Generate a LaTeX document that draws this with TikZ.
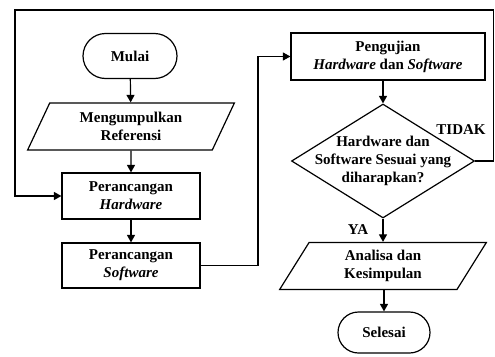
\documentclass[tikz,border=0pt]{standalone}
\usepackage{fontspec}
\setmainfont{Liberation Serif}
\usetikzlibrary{arrows.meta,shapes.geometric,shapes.misc}

\tikzset{
  base/.style={draw, line width=1.2pt, inner sep=0pt, align=center,
    font=\fontsize{15}{18}\selectfont\bfseries},
  terminal/.style={base, rounded rectangle, minimum width=#1, minimum height=45pt},
  procbox/.style={base, rectangle, minimum height=46pt},
  iobox/.style={base, trapezium, trapezium left angle=64, trapezium right angle=116,
    trapezium stretches=true, minimum width=207pt, minimum height=47pt},
  decision/.style={draw, line width=1.2pt, diamond, inner sep=0pt,
    minimum width=183pt, minimum height=114pt},
  lbl/.style={font=\fontsize{15}{18}\selectfont\bfseries, inner sep=0pt},
  flow/.style={line width=1.2pt, -{Triangle[length=7.5pt,width=8pt]}},
  wire/.style={line width=1.2pt}
}

\begin{document}
\begin{tikzpicture}[x=1pt,y=-1pt]
  \useasboundingbox (0,0) rectangle (495,356);

  % left column
  \node[terminal=94pt] (mulai) at (130,56) {Mulai};
  \node[iobox] (ref) at (131,126.5) {Mengumpulkan\\Referensi};
  \node[procbox, minimum width=138pt] (hw) at (131,196) {Perancangan\\\textit{Hardware}};
  \node[procbox, minimum width=138pt, minimum height=45pt] (sw) at (131,265.5) {Perancangan\\\textit{Software}};

  % right column
  \node[procbox, minimum width=194pt, minimum height=47pt] (uji) at (388,56.5)
    {Pengujian\\\textit{Hardware} dan \textit{Software}};
  \node[decision] (cek) at (383,161) {};
  \node[lbl, align=center] (cektxt) at (cek.center) {Hardware dan\\Software Sesuai yang\\diharapkan?};
  \node[iobox] (ana) at (383,266) {Analisa dan\\Kesimpulan};
  \node[terminal=92pt, minimum height=41pt] (selesai) at (384,332.5) {Selesai};

  % branch labels
  \node[lbl] (tidak) at (461,130) {TIDAK};
  \node[lbl] (ya) at (358,230) {YA};

  % loop corners
  \coordinate (c1) at (493.5,161);
  \coordinate (c2) at (493.5,10);
  \coordinate (c3) at (15,10);
  \coordinate (c4) at (258,265.5);
  \coordinate (c5) at (258,56.5);

  % connectors
  \draw[flow] (mulai) -- (ref);
  \draw[flow] (ref) -- (hw);
  \draw[flow] (hw) -- (sw);
  \draw[flow] (sw.east) -- (c4) -- (c5) -- (uji.west);
  \draw[flow] (cek.north |- uji.south) -- (cek.north);
  \draw[flow] (cek.south) -- (ana.north -| cek.south);
  \draw[flow] (ana.south -| selesai.north) -- (selesai.north);
  \draw[flow] (cek.east) -- (c1) -- (c2) -- (c3) -- (c3 |- hw.west) -- (hw.west);
\end{tikzpicture}
\end{document}
